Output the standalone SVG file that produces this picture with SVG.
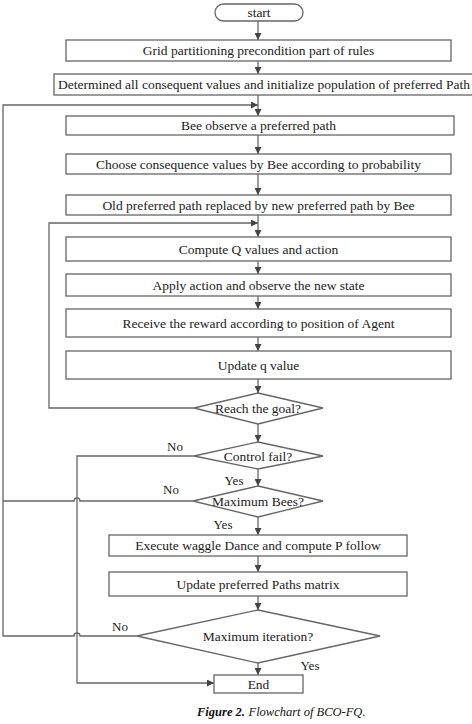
<svg xmlns="http://www.w3.org/2000/svg" width="472" height="724" viewBox="0 0 472 724">
<style>
.box{fill:#fff;stroke:#666;stroke-width:1.3}
.t{font-family:"Liberation Serif","Times New Roman",serif;font-size:13.5px;fill:#222;text-anchor:middle}
.lbl{font-family:"Liberation Serif","Times New Roman",serif;font-size:13px;fill:#222;text-anchor:middle}
.ln{fill:none;stroke:#666;stroke-width:1.3}
.cap{font-family:"Liberation Serif","Times New Roman",serif;font-size:12.5px;fill:#111;font-style:italic}
</style>
<defs>
<marker id="ah" viewBox="0 0 10 10" refX="10" refY="5" markerWidth="7" markerHeight="7" markerUnits="userSpaceOnUse" orient="auto">
<path d="M0,0 L10,5 L0,10 Z" fill="#444"/>
</marker>
</defs>
<rect width="472" height="724" fill="#fff"/>
<g id="connectors">
<line class="ln" x1="258" y1="21" x2="258" y2="40" marker-end="url(#ah)"/>
<line class="ln" x1="258" y1="61" x2="258" y2="74" marker-end="url(#ah)"/>
<line class="ln" x1="258" y1="95" x2="258" y2="116" marker-end="url(#ah)"/>
<path class="ln" d="M137,636 L80,636 A3,3 0 0 0 74,636 L3,636 L3,105 L258,105" marker-end="url(#ah)"/>
<path class="ln" d="M193,501 L80,501 A3,3 0 0 0 74,501 L3,501"/>
<line class="ln" x1="258" y1="135" x2="258" y2="154" marker-end="url(#ah)"/>
<line class="ln" x1="258" y1="174" x2="258" y2="195" marker-end="url(#ah)"/>
<line class="ln" x1="258" y1="215" x2="258" y2="237" marker-end="url(#ah)"/>
<path class="ln" d="M194,408 L49,408 L49,223 L258,223" marker-end="url(#ah)"/>
<line class="ln" x1="258" y1="261" x2="258" y2="274" marker-end="url(#ah)"/>
<line class="ln" x1="258" y1="296" x2="258" y2="309" marker-end="url(#ah)"/>
<line class="ln" x1="258" y1="337" x2="258" y2="351" marker-end="url(#ah)"/>
<line class="ln" x1="258" y1="379" x2="258" y2="393" marker-end="url(#ah)"/>
<line class="ln" x1="258" y1="424" x2="258" y2="442" marker-end="url(#ah)"/>
<path class="ln" d="M194,456 L77,456 L77,683 L214,683" marker-end="url(#ah)"/>
<line class="ln" x1="258" y1="469" x2="258" y2="486" marker-end="url(#ah)"/>
<line class="ln" x1="258" y1="517" x2="258" y2="535" marker-end="url(#ah)"/>
<line class="ln" x1="258" y1="556" x2="258" y2="572" marker-end="url(#ah)"/>
<line class="ln" x1="258" y1="596" x2="258" y2="610" marker-end="url(#ah)"/>
<line class="ln" x1="258" y1="663" x2="258" y2="675" marker-end="url(#ah)"/>
<text class="lbl" x="175" y="451">No</text>
<text class="lbl" x="234" y="485">Yes</text>
<text class="lbl" x="171" y="494">No</text>
<text class="lbl" x="223" y="529">Yes</text>
<text class="lbl" x="120" y="631">No</text>
<text class="lbl" x="310" y="670">Yes</text>
</g>
<g id="start"><rect class="box" x="215" y="4" width="88" height="17" rx="8.5"/><text class="t" x="259" y="17">start</text></g>
<g id="grid"><rect class="box" x="66" y="40" width="385" height="21"/><text class="t" x="258.5" y="55">Grid partitioning precondition part of rules</text></g>
<g id="determined"><rect class="box" x="54" y="74" width="430" height="21"/><text class="t" x="58" y="89" style="text-anchor:start">Determined all consequent values and initialize population of preferred Path</text></g>
<g id="observe"><rect class="box" x="66" y="116" width="388" height="19"/><text class="t" x="258.5" y="130">Bee observe a preferred path</text></g>
<g id="choose"><rect class="box" x="66" y="154" width="385" height="20"/><text class="t" x="258.5" y="168.5">Choose consequence values by Bee according to probability</text></g>
<g id="old"><rect class="box" x="66" y="195" width="385" height="20"/><text class="t" x="258.5" y="209.5">Old preferred path replaced by new preferred path by Bee</text></g>
<g id="compute"><rect class="box" x="66" y="237" width="385" height="24"/><text class="t" x="258.5" y="253.5">Compute Q values and action</text></g>
<g id="apply"><rect class="box" x="66" y="274" width="385" height="22"/><text class="t" x="258.5" y="289.5">Apply action and observe the new state</text></g>
<g id="receive"><rect class="box" x="66" y="309" width="385" height="28"/><text class="t" x="258.5" y="327.5">Receive the reward according to position of Agent</text></g>
<g id="updateq"><rect class="box" x="66" y="351" width="385" height="28"/><text class="t" x="258.5" y="369.5">Update q value</text></g>
<g id="reach"><polygon class="box" points="258,393 323,408 258,424 194,408"/><text class="t" x="258" y="412.5">Reach the goal?</text></g>
<g id="control"><polygon class="box" points="258,442 323,456 258,469 194,456"/><text class="t" x="258" y="460.5">Control fail?</text></g>
<g id="maxbees"><polygon class="box" points="258,486 323,501 258,517 193,501"/><text class="t" x="258" y="505.5">Maximum Bees?</text></g>
<g id="waggle"><rect class="box" x="109" y="535" width="298" height="21"/><text class="t" x="258" y="550">Execute waggle Dance and compute P follow</text></g>
<g id="updatepaths"><rect class="box" x="109" y="572" width="298" height="24"/><text class="t" x="258" y="588.5">Update preferred Paths matrix</text></g>
<g id="maxiter"><polygon class="box" points="258,610 380,636 258,663 137,636"/><text class="t" x="258" y="640.5">Maximum iteration?</text></g>
<g id="end"><rect class="box" x="214" y="675" width="89" height="18"/><text class="t" x="258.5" y="688.5">End</text></g>
<text class="cap" x="197" y="716" font-weight="bold">Figure 2.</text>
<text class="cap" x="248.5" y="716">Flowchart of BCO-FQ.</text>
</svg>
